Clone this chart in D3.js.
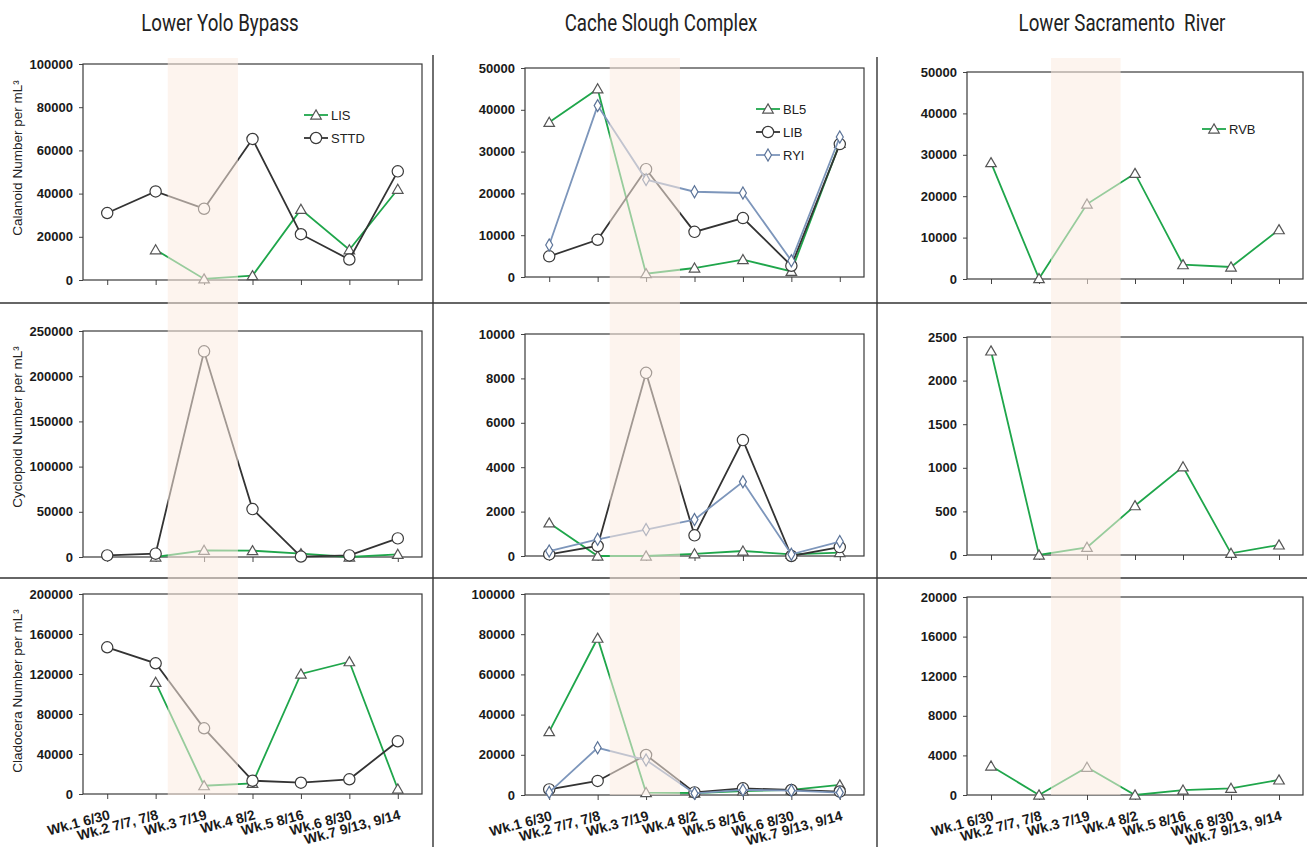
<!DOCTYPE html>
<html>
<head>
<meta charset="utf-8">
<script src="https://cdn.jsdelivr.net/npm/d3@7"></script>
<style>
  body { margin: 0; background: #fff; }
  svg { display: block; }
  .tick text { font-family: "Liberation Sans", Arial, sans-serif; }
</style>
</head>
<body>
<div id="wrapper"></div>
<script>
const weeks = ["Wk.1 6/30", "Wk.2 7/7, 7/8", "Wk.3 7/19", "Wk.4 8/2", "Wk.5 8/16", "Wk.6 8/30", "Wk.7 9/13, 9/14"];
const regions = ["Lower Yolo Bypass", "Cache Slough Complex", "Lower Sacramento  River"];
const taxa = ["Calanoid", "Cyclopoid", "Cladocera"];

// Lower Yolo Bypass
const calanoidLIS = [null, 14000, 500, 2000, 32700, 14000, 42000];
const calanoidSTTD = [31000, 41000, 33000, 65300, 21200, 9500, 50300];
const cyclopoidLIS = [null, 0, 7400, 7000, 3700, 0, 3000];
const cyclopoidSTTD = [1800, 3700, 227500, 53000, 500, 1800, 20600];
const cladoceraLIS = [null, 111700, 8300, 10700, 120000, 132300, 5000];
const cladoceraSTTD = [146700, 130700, 65700, 13300, 11300, 14700, 52700];

// Cache Slough Complex
const calanoidBL5 = [37000, 45000, 800, 2150, 4150, 1350, 32000];
const calanoidLIB = [4950, 8900, 25800, 10800, 14100, 2700, 31800];
const calanoidRYI = [7650, 41000, 23300, 20400, 20100, 3900, 33500];
const cyclopoidBL5 = [1490, 0, 0, 100, 225, 75, 150];
const cyclopoidLIB = [75, 450, 8250, 930, 5220, 0, 400];
const cyclopoidRYI = [225, 750, 1190, 1640, 3340, 75, 650];
const cladoceraBL5 = [31500, 78000, 1200, 1000, 2000, 2500, 5000];
const cladoceraLIB = [2800, 7000, 19900, 1300, 3300, 2500, 1700];
const cladoceraRYI = [1300, 23500, 17400, 800, 2500, 2200, 1200];

// Lower Sacramento River
const calanoidRVB = [28100, 100, 18100, 25500, 3450, 2900, 11900];
const cyclopoidRVB = [2340, 0, 88, 565, 1011, 19, 115];
const cladoceraRVB = [2930, 0, 2800, 0, 500, 670, 1520];

// y axis max and tick step, [row][col]
const yMax = [[100000, 50000, 50000], [250000, 10000, 2500], [200000, 100000, 20000]];
const yStep = [[20000, 10000, 10000], [50000, 2000, 500], [40000, 20000, 4000]];

// shaded period, in week-index units
const shadeFrom = 1.25;
const shadeTo = 2.7;

const panels = [
  [
    [["LIS", calanoidLIS], ["STTD", calanoidSTTD]],
    [["BL5", calanoidBL5], ["LIB", calanoidLIB], ["RYI", calanoidRYI]],
    [["RVB", calanoidRVB]],
  ],
  [
    [["LIS", cyclopoidLIS], ["STTD", cyclopoidSTTD]],
    [["BL5", cyclopoidBL5], ["LIB", cyclopoidLIB], ["RYI", cyclopoidRYI]],
    [["RVB", cyclopoidRVB]],
  ],
  [
    [["LIS", cladoceraLIS], ["STTD", cladoceraSTTD]],
    [["BL5", cladoceraBL5], ["LIB", cladoceraLIB], ["RYI", cladoceraRYI]],
    [["RVB", cladoceraRVB]],
  ],
];

const green = "#1fa64b";
const styles = {
  LIS: { color: green, marker: "triangle" },
  BL5: { color: green, marker: "triangle" },
  RVB: { color: green, marker: "triangle" },
  STTD: { color: "#333333", marker: "circle" },
  LIB: { color: "#333333", marker: "circle" },
  RYI: { color: "#7d96bb", marker: "diamond" },
};

const width = 1307;
const height = 847;

// layout of each plot area
const colX = [[83, 422], [525, 864], [967, 1303]];
const panelY = [
  [[64, 280], [68, 277], [72, 279]],
  [[331, 557], [334, 556], [337, 555]],
  [[594, 794], [594, 795], [597, 795]],
];
const titleX = [220, 661, 1122];
const yTitleCenter = [158, 427, 691];
const legendPos = [[304, 115], [756, 109], [1202, 129]];

const svg = d3.select('#wrapper')
  .append('svg')
  .attr('width', width)
  .attr('height', height);

// column titles
svg.selectAll('text.region')
  .data(regions)
  .enter().append('text')
  .attr('class', 'region')
  .attr('transform', (d, i) => `translate(${titleX[i]}, 31) scale(0.78, 1)`)
  .attr('text-anchor', 'middle')
  .style('font-family', 'Roboto, sans-serif')
  .style('font-size', '24px')
  .style('white-space', 'pre')
  .attr('fill', '#222')
  .text(d => d);

// y titles
svg.selectAll('text.ytitle')
  .data(taxa)
  .enter().append('text')
  .attr('class', 'ytitle')
  .attr('transform', (d, i) => `translate(22, ${yTitleCenter[i]}) rotate(-90)`)
  .attr('text-anchor', 'middle')
  .style('font-family', '"Liberation Sans", Arial, sans-serif')
  .style('font-size', '13.5px')
  .attr('fill', '#222')
  .text(d => `${d} Number per mL³`);

const symbolFor = {
  triangle: d3.symbol().type(d3.symbolTriangle).size(48),
  circle: d3.symbol().type(d3.symbolCircle).size(100),
  diamond: d3.symbol().type(d3.symbolDiamond).size(42),
};

function drawMarker(g, name, x, y) {
  const st = styles[name];
  g.append('path')
    .attr('d', symbolFor[st.marker]())
    .attr('transform', `translate(${x}, ${y + (st.marker === 'triangle' ? 1 : 0)})`)
    .attr('fill', '#fff')
    .attr('stroke', st.marker === 'diamond' ? '#5b7398' : (st.marker === 'circle' ? '#3a3a3a' : '#555'))
    .attr('stroke-width', 1.2);
}

panels.forEach((row, r) => {
  row.forEach((seriesList, c) => {
    const [left, right] = colX[c];
    const [top, bottom] = panelY[r][c];

    const xScale = d3.scalePoint()
      .domain(weeks)
      .range([left, right])
      .padding(0.5);

    const yScale = d3.scaleLinear()
      .domain([0, yMax[r][c]])
      .range([bottom, top]);

    const g = svg.append('g');

    // y axis
    const yAxis = g.append('g')
      .attr('transform', `translate(${left}, 0)`)
      .call(d3.axisLeft(yScale)
        .tickValues(d3.range(0, yMax[r][c] + 1, yStep[r][c]))
        .tickSize(4)
        .tickPadding(6)
        .tickFormat(d3.format('d')));
    yAxis.select('.domain').remove();
    yAxis.selectAll('line').attr('stroke', '#444');
    yAxis.selectAll('text')
      .style('font-size', '13px')
      .style('font-weight', 'bold')
      .attr('fill', '#1a1a1a');

    // x axis
    const xAxis = g.append('g')
      .attr('transform', `translate(0, ${bottom})`)
      .call(d3.axisBottom(xScale)
        .tickSize(5)
        .tickFormat(r === 2 ? (d => d) : ''));
    xAxis.select('.domain').remove();
    xAxis.selectAll('line').attr('stroke', '#444');
    xAxis.selectAll('text')
      .style('font-size', '14px')
      .style('font-weight', 'bold')
      .attr('fill', '#1a1a1a')
      .attr('text-anchor', 'end')
      .attr('y', 0)
      .attr('dy', 0)
      .attr('transform', 'translate(3, 25) rotate(-15)');

    // frame
    g.append('rect')
      .attr('x', left)
      .attr('y', top)
      .attr('width', right - left)
      .attr('height', bottom - top)
      .attr('fill', 'none')
      .attr('stroke', '#3a3a3a')
      .attr('stroke-width', 1.2);

    const lineGen = d3.line()
      .defined(d => d[1] != null)
      .x(d => xScale(d[0]))
      .y(d => yScale(d[1]));

    seriesList.forEach(([name, values]) => {
      const pts = values.map((v, i) => [weeks[i], v]);
      g.append('path')
        .datum(pts)
        .attr('d', lineGen)
        .attr('fill', 'none')
        .attr('stroke', styles[name].color)
        .attr('stroke-width', 1.8);
      pts.filter(d => d[1] != null).forEach(d => {
        drawMarker(g, name, xScale(d[0]), yScale(d[1]));
      });
    });

    // legend, top row only
    if (r === 0) {
      const [lx, ly] = legendPos[c];
      seriesList.forEach(([name], k) => {
        const yy = ly + k * 23;
        g.append('line')
          .attr('x1', lx).attr('x2', lx + 24)
          .attr('y1', yy).attr('y2', yy)
          .attr('stroke', styles[name].color)
          .attr('stroke-width', 1.8);
        drawMarker(g, name, lx + 12, yy);
        g.append('text')
          .attr('x', lx + 27)
          .attr('y', yy + 4.5)
          .style('font-family', '"Liberation Sans", Arial, sans-serif')
          .style('font-size', '13px')
          .attr('fill', '#222')
          .text(name);
      });
    }
  });
});

// separators
svg.append('g')
  .selectAll('line')
  .data([303, 578])
  .enter().append('line')
  .attr('x1', 0).attr('x2', width)
  .attr('y1', d => d).attr('y2', d => d)
  .attr('stroke', '#333')
  .attr('stroke-width', 1.4);

svg.append('g')
  .selectAll('line')
  .data([[433, 55], [877, 57]])
  .enter().append('line')
  .attr('x1', d => d[0]).attr('x2', d => d[0])
  .attr('y1', d => d[1]).attr('y2', height)
  .attr('stroke', '#333')
  .attr('stroke-width', 1.4);

// shaded period drawn over everything
colX.forEach(([left, right]) => {
  const shadeScale = d3.scaleLinear().domain([-0.5, weeks.length - 0.5]).range([left, right]);
  svg.append('rect')
    .attr('x', shadeScale(shadeFrom))
    .attr('y', 58)
    .attr('width', shadeScale(shadeTo) - shadeScale(shadeFrom))
    .attr('height', 795 - 58)
    .attr('fill', '#fbebe0')
    .attr('opacity', 0.55);
});
</script>
</body>
</html>
